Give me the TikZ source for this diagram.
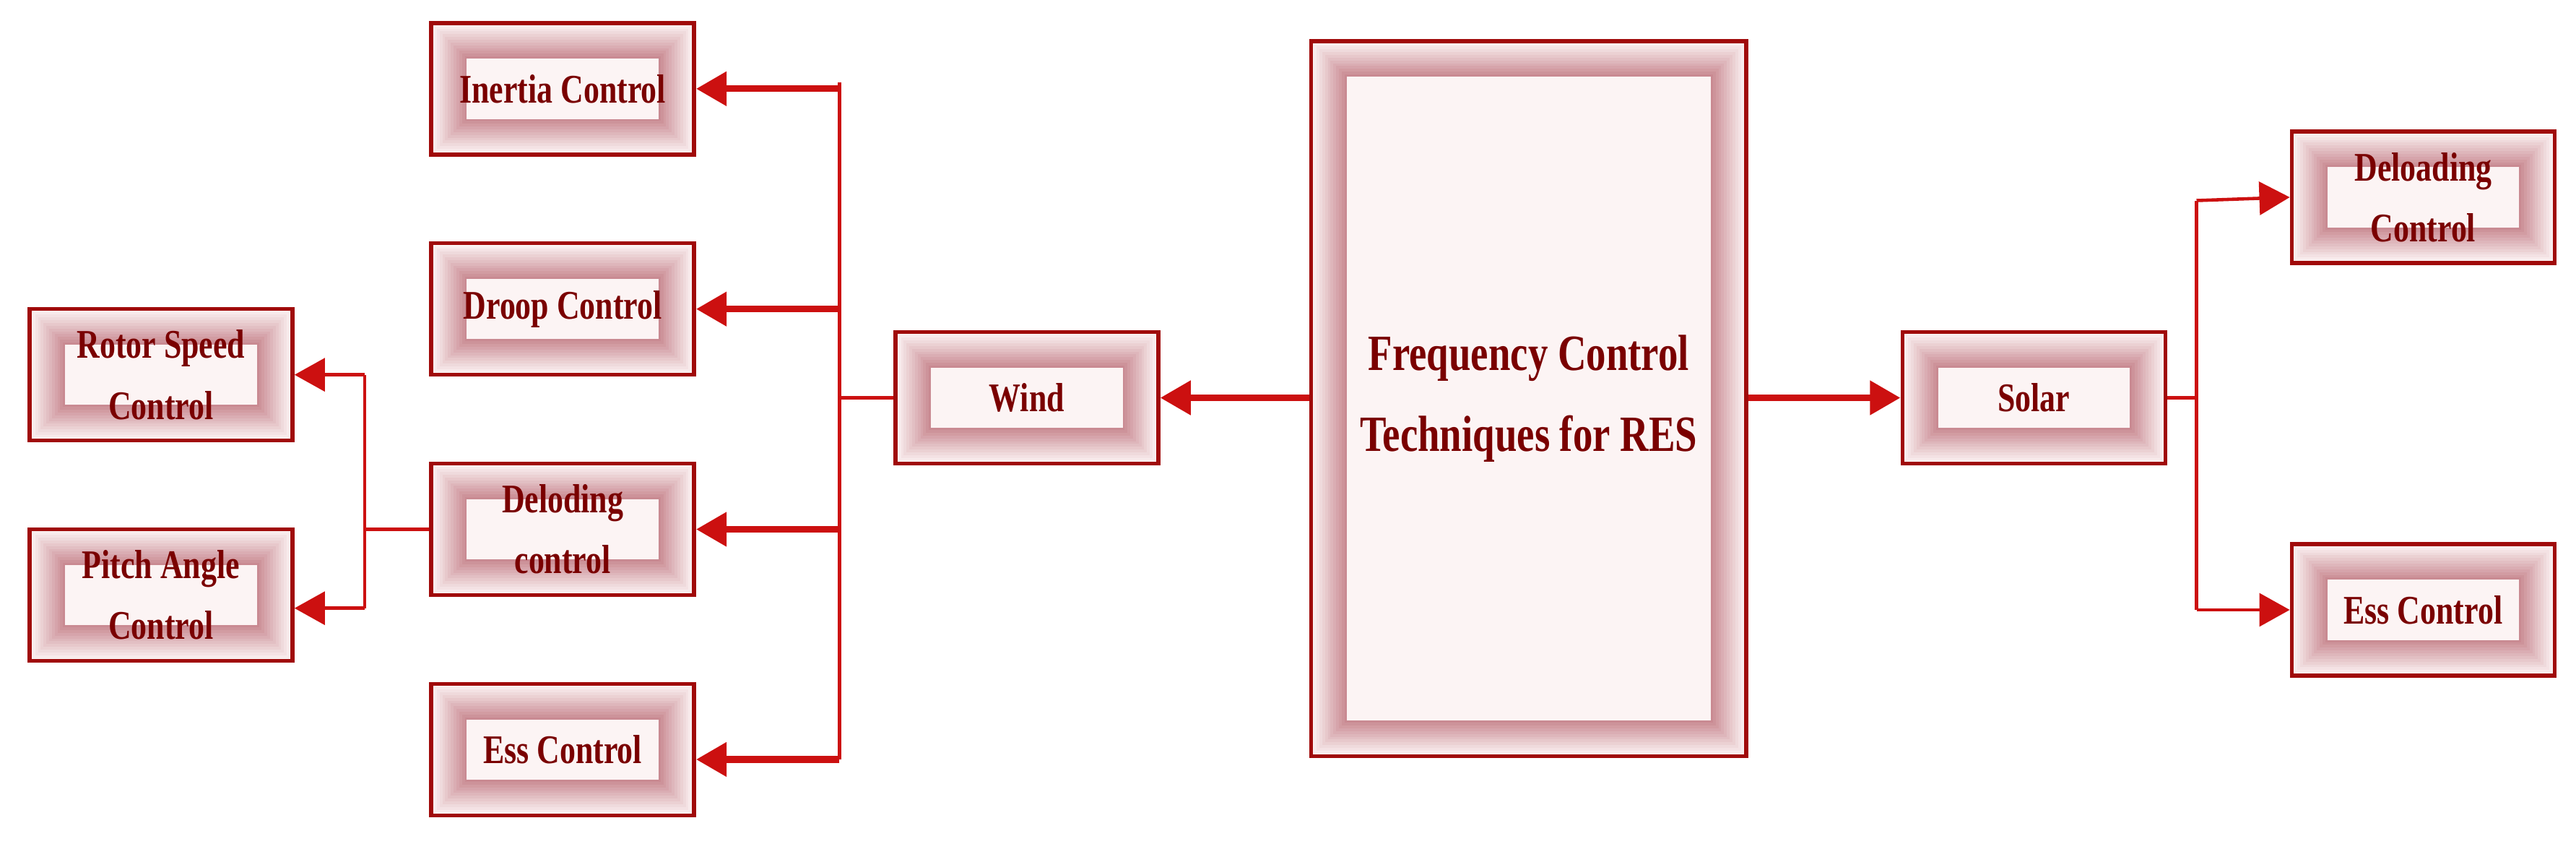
\documentclass[tikz,border=0pt]{standalone}
\usepackage{fontspec}
\setmainfont{Liberation Serif}
\newfontfamily\cond{Liberation Serif}[FakeStretch=0.78]
\usetikzlibrary{arrows.meta}
\definecolor{bord}{HTML}{A00A0A}
\definecolor{ln}{HTML}{CC1010}
\definecolor{txt}{HTML}{7A0000}
\definecolor{glow}{HTML}{C98A92}
\definecolor{inner}{HTML}{FCF4F4}
\tikzset{
 glowfill/.style={path picture={
   \foreach \i in {0,...,12}{
     \pgfmathsetmacro\p{100-\i*100/12}
     \fill[inner!\p!glow!100] ([shift={(\i*1.1pt,-\i*1.1pt)}]path picture bounding box.north west) rectangle ([shift={(-\i*1.1pt,\i*1.1pt)}]path picture bounding box.south east);
   }
   \fill[inner] ([shift={(14pt,-14pt)}]path picture bounding box.north west) rectangle ([shift={(-14pt,14pt)}]path picture bounding box.south east);
 }},
 box/.style={draw=bord, line width=1.6pt, glowfill, minimum width=3.64cm, minimum height=1.82cm,
   align=center, text=txt, font=\cond\bfseries\fontsize{16}{24}\selectfont, inner sep=0pt},
 thin/.style={draw=ln, line width=1.3pt},
 thick/.style={draw=ln, line width=2.6pt},
 arr/.style={thick, -{Triangle[length=12pt,width=13pt]}, shorten >=0pt},
 arrt/.style={thin, -{Triangle[length=12pt,width=13pt]}},
}
\begin{document}
\begin{tikzpicture}[x=0.02275cm,y=-0.02275cm]
\useasboundingbox (0,0) rectangle (1568,513.4);
\node[box] (rotor) at (98,228) {Rotor Speed\\Control};
\node[box] (pitch) at (98,362) {Pitch Angle\\Control};
\node[box] (inertia) at (342.5,54) {Inertia Control};
\node[box] (droop) at (342.5,188) {Droop Control};
\node[box] (delod) at (342.5,322) {Deloding\\control};
\node[box] (essl) at (342.5,456) {Ess Control};
\node[box] (wind) at (625,242) {Wind};
\node[box, minimum width=6.03cm, minimum height=9.9cm, font=\cond\bfseries\fontsize{20}{32}\selectfont] (freq) at (930.5,242.5) {Frequency Control\\Techniques for RES};
\node[box] (solar) at (1238,242) {Solar};
\node[box] (delr) at (1475,120) {Deloading\\Control};
\node[box] (essr) at (1475,371) {Ess Control};
% trunk
\coordinate (tt) at (511,50);
\coordinate (tb) at (511,462);
\coordinate (tw) at (511,242);
\draw[thin] (tt) -- (tb);
\draw[thin] (wind.west) -- (tw);
\draw[arr] (tt |- inertia.east) -- (inertia.east);
\draw[arr] (tt |- droop.east) -- (droop.east);
\draw[arr] (tt |- delod.east) -- (delod.east);
\draw[arr] (tb) -- (tb -| essl.east);
% sub bus
\coordinate (st) at (222,228);
\coordinate (sb) at (222,370);
\draw[thin] (delod.west) -- (delod.west -| st);
\draw[thin] (st) -- (sb);
\draw[arrt] (st) -- (rotor.east);
\draw[arrt] (sb) -- (sb -| pitch.east);
% main arrows
\draw[arr] (freq.west |- wind.east) -- (wind.east);
\draw[arr] (freq.east |- solar.west) -- (solar.west);
% right bus
\coordinate (rt) at (1337,122);
\coordinate (rb) at (1337,371);
\draw[thin] (solar.east) -- (solar.east -| rt);
\draw[thin] (rt) -- (rb);
\draw[arrt] (rt) -- (delr.west);
\draw[arrt] (rb) -- (essr.west);
\end{tikzpicture}
\end{document}
